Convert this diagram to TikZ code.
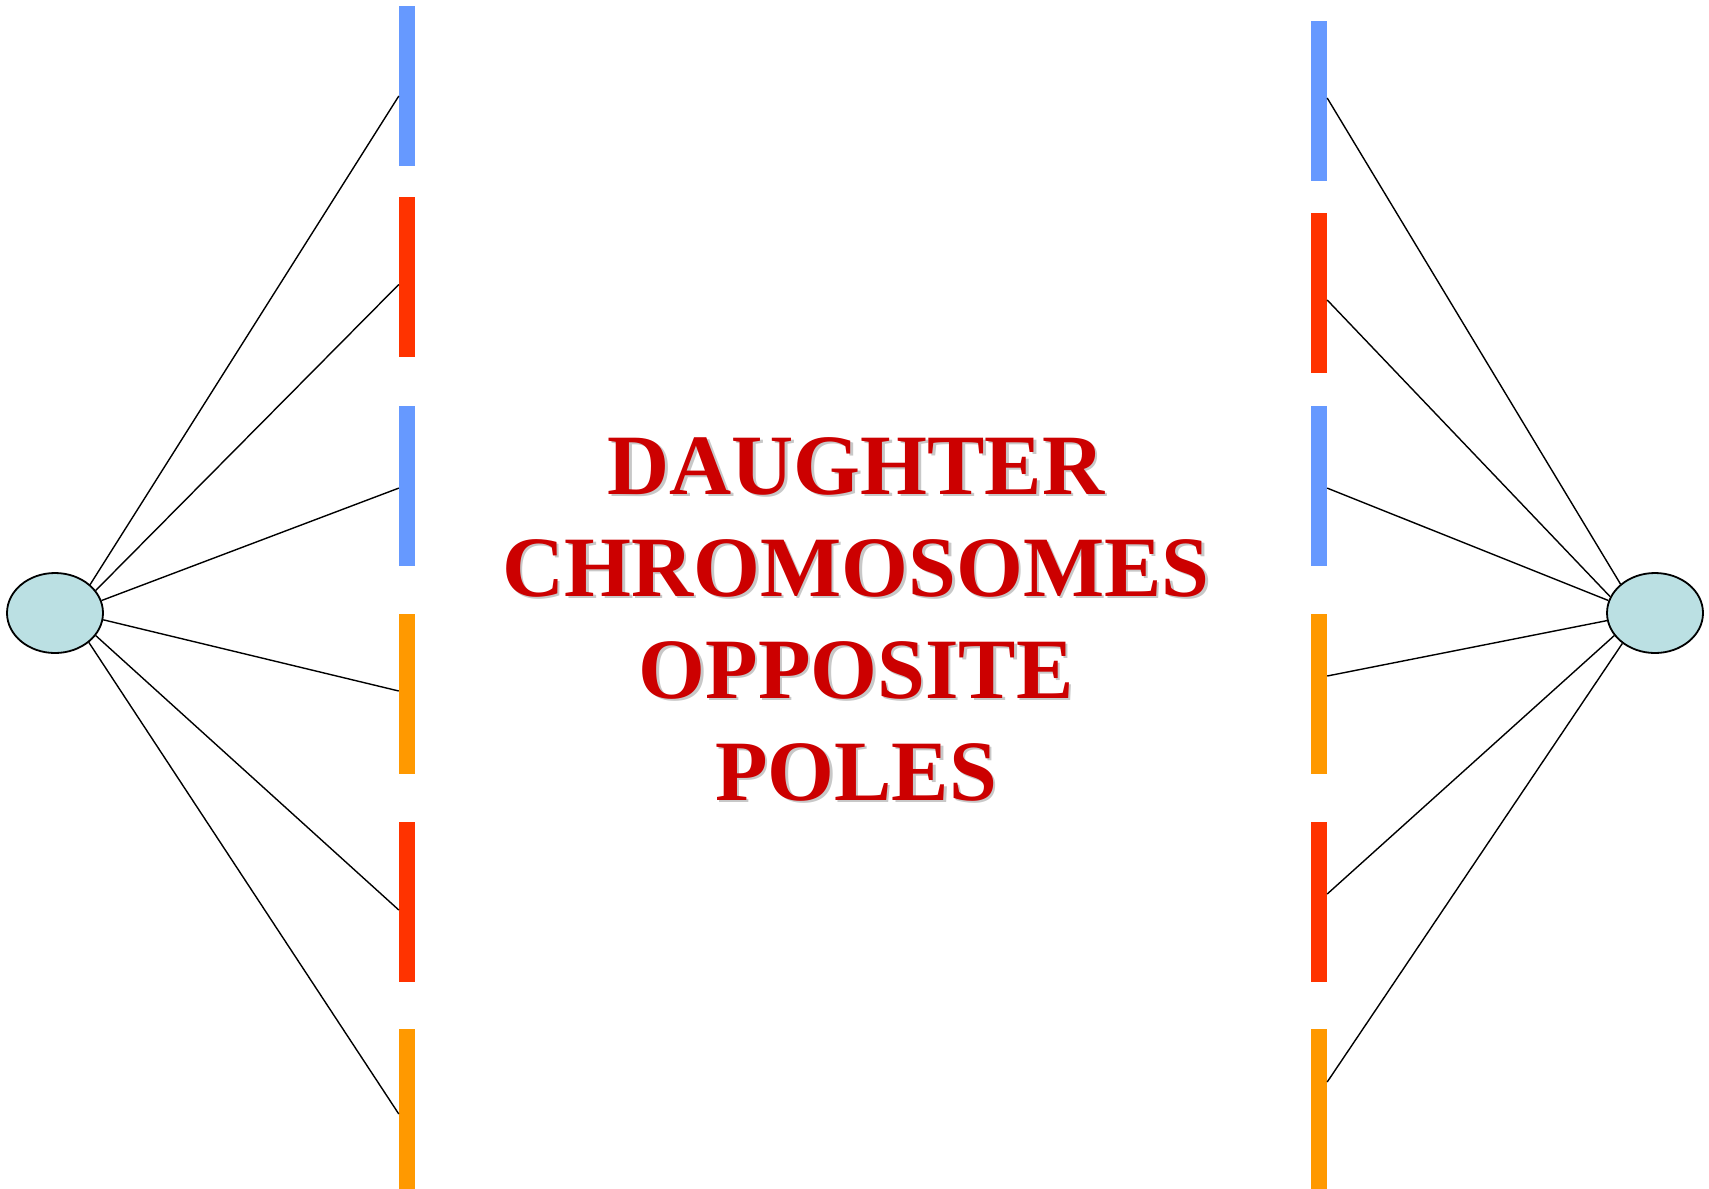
\documentclass[tikz,border=0pt]{standalone}
\usepackage{fontspec}
\setmainfont{Liberation Serif}
\usetikzlibrary{shapes.geometric}
\definecolor{barblue}{HTML}{6699FF}
\definecolor{barred}{HTML}{FF3300}
\definecolor{barorange}{HTML}{FF9900}
\definecolor{polefill}{HTML}{BBE0E3}
\definecolor{txtred}{HTML}{CC0000}
\definecolor{shadowgray}{HTML}{C8C8C8}
\tikzset{
  chrom/.style={rectangle, inner sep=0pt, minimum width=16pt, minimum height=160pt, draw=none},
  pole/.style={ellipse, draw=black, line width=1.8pt, fill=polefill, minimum width=96pt, minimum height=80pt, inner sep=0pt},
  fiber/.style={draw=black, line width=1.4pt},
  title/.style={align=center, font=\fontsize{86}{102}\selectfont\bfseries}
}
\begin{document}
\begin{tikzpicture}[x=1pt,y=-1pt]
\useasboundingbox (0,0) rectangle (1709,1189);
% left chromosomes
\node[chrom, fill=barblue]   (L1) at (407,85.5) {};
\node[chrom, fill=barred]    (L2) at (407,277) {};
\node[chrom, fill=barblue]   (L3) at (407,485.6) {};
\node[chrom, fill=barorange] (L4) at (407,694) {};
\node[chrom, fill=barred]    (L5) at (407,902) {};
\node[chrom, fill=barorange] (L6) at (407,1109) {};
% right chromosomes
\node[chrom, fill=barblue]   (R1) at (1319,101) {};
\node[chrom, fill=barred]    (R2) at (1319,293) {};
\node[chrom, fill=barblue]   (R3) at (1319,485.6) {};
\node[chrom, fill=barorange] (R4) at (1319,694) {};
\node[chrom, fill=barred]    (R5) at (1319,902) {};
\node[chrom, fill=barorange] (R6) at (1319,1109) {};
% poles
\node[pole] (PL) at (55,613) {};
\node[pole] (PR) at (1655,613) {};
% fibers left
\draw[fiber] (PL.39)  -- ([yshift=-10.5pt]L1.west);
\draw[fiber] (PL.29)  -- ([yshift=-7.5pt]L2.west);
\draw[fiber] (PL.15)  -- ([yshift=-2.5pt]L3.west);
\draw[fiber] (PL.-8)  -- ([yshift=3pt]L4.west);
\draw[fiber] (PL.-29) -- ([yshift=-8pt]L5.west);
\draw[fiber] (PL.-41) -- ([yshift=-5pt]L6.west);
% fibers right
\draw[fiber] (PR.140) -- ([yshift=3pt]R1.east);
\draw[fiber] (PR.160) -- ([yshift=-7pt]R2.east);
\draw[fiber] (PR.165) -- ([yshift=-2.5pt]R3.east);
\draw[fiber] (PR.189) -- ([yshift=18pt]R4.east);
\draw[fiber] (PR.209) -- ([yshift=8pt]R5.east);
\draw[fiber] (PR.223) -- ([yshift=27pt]R6.east);
% title with shadow
\node[title, text=shadowgray, anchor=base] (Tshadow) at (858.5,802.5) {DAUGHTER\\CHROMOSOMES\\OPPOSITE\\POLES};
\node[title, text=txtred, anchor=base] (T) at (856,800) {DAUGHTER\\CHROMOSOMES\\OPPOSITE\\POLES};
\end{tikzpicture}
\end{document}
